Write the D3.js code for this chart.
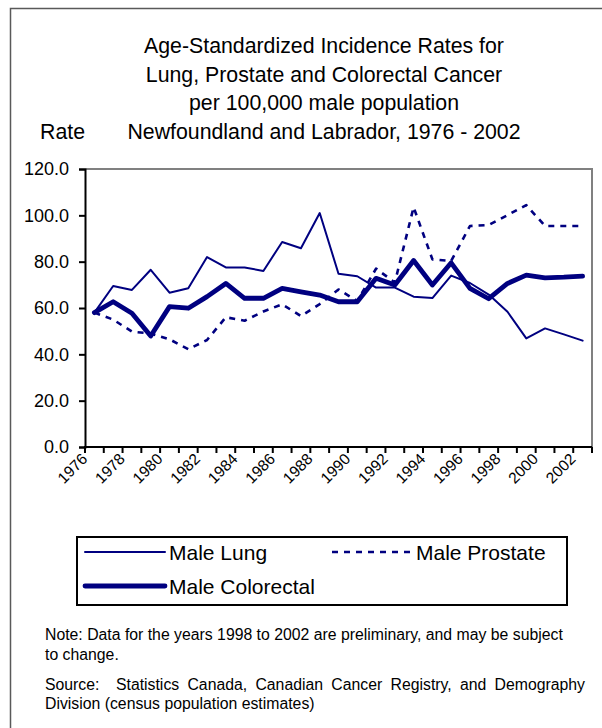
<!DOCTYPE html>
<html>
<head>
<meta charset="utf-8">
<script src="https://cdn.jsdelivr.net/npm/d3@7"></script>
<style>
  html, body { margin: 0; padding: 0; background: #fff; }
  svg { display: block; font-family: "Liberation Sans", Arial, sans-serif; }
</style>
</head>
<body>
<svg id="chart" width="602" height="728"></svg>
<script>
// Age-standardized incidence rates per 100,000 males, Newfoundland and Labrador
const years = d3.range(1976, 2003);
const maleLung = [58, 69.5, 67.8, 76.5, 66.6, 68.5, 82, 77.5, 77.5, 76, 88.5, 85.8, 101, 74.8, 73.7, 68.8, 68.8, 64.9, 64.3, 74, 70.8, 65.8, 58.4, 46.9, 51.2, 48.6, 45.9];
const maleProstate = [58, 55, 49.8, 49, 46.5, 42.2, 46.2, 56, 54.5, 58.5, 61.6, 56.5, 61.7, 68, 63, 77, 71, 103.5, 81, 80.3, 95.4, 95.8, 100.1, 104.4, 95.4, 95.4, 95.4];
const maleColorectal = [58, 62.7, 57.7, 47.9, 60.6, 59.9, 64.9, 70.6, 64.2, 64.2, 68.5, 67, 65.6, 62.7, 62.7, 72.8, 69.9, 80.5, 69.9, 79.5, 68.5, 64, 70.6, 74.2, 73, 73.3, 73.8];
const yTicks = [0, 20, 40, 60, 80, 100, 120];
const xTickLabels = years.filter((y, i) => i % 2 === 0);

const titleLines = [
  "Age-Standardized Incidence Rates for",
  "Lung, Prostate and Colorectal Cancer",
  "per 100,000 male population",
  "Newfoundland and Labrador, 1976 - 2002"
];

const navy = "#000080";
const series = [
  { name: "Male Lung", values: maleLung, width: 2, dash: null },
  { name: "Male Prostate", values: maleProstate, width: 2.6, dash: "6,6" },
  { name: "Male Colorectal", values: maleColorectal, width: 4.8, dash: null }
];

const svg = d3.select("#chart");

// outer frame of the whole figure
svg.append("rect")
  .attr("x", 10.5).attr("y", 8.5)
  .attr("width", 620).attr("height", 740)
  .attr("fill", "none").attr("stroke", "#595959").attr("stroke-width", 1.5);

// title
svg.append("g").selectAll("text").data(titleLines).join("text")
  .attr("x", 324).attr("y", (d, i) => 53 + i * 28.5)
  .attr("text-anchor", "middle")
  .attr("font-size", 21.3)
  .attr("fill", "#000")
  .text(d => d);

svg.append("text")
  .attr("x", 40).attr("y", 139)
  .attr("font-size", 21.3)
  .text("Rate");

// plot area
const plot = { left: 85, right: 592, top: 169, bottom: 447 };

const x = d3.scaleBand().domain(years).range([plot.left, plot.right]).padding(0);
const xc = yr => x(yr) + x.bandwidth() / 2;
const y = d3.scaleLinear().domain([0, 120]).range([plot.bottom, plot.top]);

// plot area frame (top and right)
svg.append("path")
  .attr("d", `M${plot.left},${plot.top}H${plot.right}V${plot.bottom}`)
  .attr("fill", "none").attr("stroke", "#808080").attr("stroke-width", 2);

// y axis
const yAxis = svg.append("g")
  .attr("transform", `translate(${plot.left},0)`)
  .call(d3.axisLeft(y).tickValues(yTicks).tickFormat(d3.format(".1f")).tickSize(6).tickPadding(10));
yAxis.select(".domain").attr("stroke", "#000").attr("stroke-width", 2);
yAxis.selectAll(".tick line").attr("stroke", "#000").attr("stroke-width", 2);
yAxis.selectAll(".tick text")
  .attr("font-size", 18).attr("fill", "#000")
  .attr("font-family", "'Liberation Sans', Arial, sans-serif");

// x axis: tick marks on category boundaries, labels centred under categories
const boundaries = years.map(yr => x(yr)).concat([plot.right]);
const xAxis = svg.append("g");
xAxis.append("line")
  .attr("x1", plot.left - 1).attr("x2", plot.right)
  .attr("y1", plot.bottom).attr("y2", plot.bottom)
  .attr("stroke", "#000").attr("stroke-width", 2);
xAxis.selectAll("line.tick").data(boundaries).join("line")
  .attr("class", "tick")
  .attr("x1", d => d).attr("x2", d => d)
  .attr("y1", plot.bottom).attr("y2", plot.bottom + 6)
  .attr("stroke", "#000").attr("stroke-width", 2);
xAxis.selectAll("text").data(xTickLabels).join("text")
  .attr("transform", d => `translate(${xc(d) - 6},${plot.bottom + 13}) rotate(-45)`)
  .attr("text-anchor", "end")
  .attr("font-size", 15.5)
  .attr("fill", "#000")
  .text(d => d);

// series lines
const line = d3.line().x((d, i) => xc(years[i])).y(d => y(d)).curve(d3.curveLinear);
svg.append("g").selectAll("path").data(series).join("path")
  .attr("d", d => line(d.values))
  .attr("fill", "none")
  .attr("stroke", navy)
  .attr("stroke-width", d => d.width)
  .attr("stroke-dasharray", d => d.dash)
  .attr("stroke-linejoin", "round")
  .attr("stroke-linecap", d => d.dash ? "butt" : "round");

// legend
const legend = svg.append("g");
legend.append("rect")
  .attr("x", 77).attr("y", 537).attr("width", 490).attr("height", 68)
  .attr("fill", "none").attr("stroke", "#000").attr("stroke-width", 2);
const legendPos = [
  { sx: 85, y: 552 },
  { sx: 332, y: 552 },
  { sx: 85, y: 586 }
];
series.forEach((s, i) => {
  const p = legendPos[i];
  legend.append("line")
    .attr("x1", p.sx).attr("x2", p.sx + 80)
    .attr("y1", p.y).attr("y2", p.y)
    .attr("stroke", navy)
    .attr("stroke-width", s.width)
    .attr("stroke-dasharray", s.dash)
    .attr("stroke-linecap", s.dash ? "butt" : "round");
  legend.append("text")
    .attr("x", p.sx + 84).attr("y", p.y + 7.5)
    .attr("font-size", 21)
    .text(s.name);
});

// footnotes; the source line is justified by widening its word gaps
const notes = [
  { text: "Note: Data for the years 1998 to 2002 are preliminary, and may be subject", y: 640 },
  { text: "to change.", y: 660 },
  { text: "Source:  Statistics Canada, Canadian Cancer Registry, and Demography", y: 690, justify: 540 },
  { text: "Division (census population estimates)", y: 709 }
];
const noteText = svg.append("g").selectAll("text").data(notes).join("text")
  .attr("x", 45).attr("y", d => d.y)
  .attr("font-size", 15.8)
  .style("white-space", "pre")
  .text(d => d.text);
noteText.filter(d => d.justify).each(function (d) {
  const natural = this.getComputedTextLength();
  const gaps = (d.text.match(/ /g) || []).length;
  if (gaps > 0 && natural < d.justify) {
    d3.select(this).attr("word-spacing", (d.justify - natural) / gaps);
  }
});
</script>
</body>
</html>
